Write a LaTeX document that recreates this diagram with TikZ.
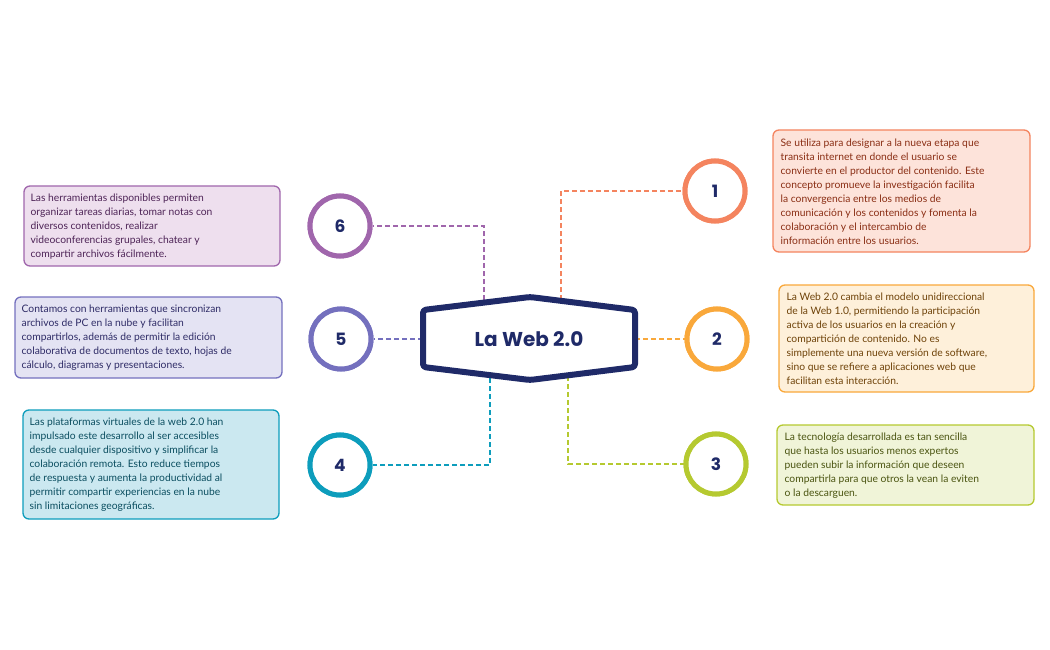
\documentclass[tikz,border=0pt]{standalone}
\usepackage{fontspec}
\setmainfont{Lato}
\newfontfamily\titlefont{Poppins}
\definecolor{navy}{HTML}{1F2A68}
\definecolor{cA}{HTML}{F4845F}\definecolor{fA}{HTML}{FDE3DA}\definecolor{tA}{HTML}{8A2E14}
\definecolor{cB}{HTML}{F9A83B}\definecolor{fB}{HTML}{FEF0DA}\definecolor{tB}{HTML}{6E4208}
\definecolor{cC}{HTML}{B5C930}\definecolor{fC}{HTML}{F0F4D8}\definecolor{tC}{HTML}{4A5410}
\definecolor{cD}{HTML}{0D9DBC}\definecolor{fD}{HTML}{CBE8F0}\definecolor{tD}{HTML}{0B4E60}
\definecolor{cE}{HTML}{7470BE}\definecolor{fE}{HTML}{E4E3F3}\definecolor{tE}{HTML}{2E2B66}
\definecolor{cF}{HTML}{A066AC}\definecolor{fF}{HTML}{EEDFEE}\definecolor{tF}{HTML}{4E2457}
\tikzset{
 num/.style={circle,draw=#1,line width=5pt,fill=white,minimum size=60pt,inner sep=0pt,font=\titlefont\bfseries\fontsize{17}{20}\selectfont,text=navy},
 txt/.style={rounded corners=5pt,line width=1.3pt,anchor=north west,align=left,inner sep=5pt,font=\fontsize{10.3}{14}\selectfont},
 conn/.style={dashed,line width=1.1pt,dash pattern=on 5pt off 3pt}
}
\begin{document}
\begin{tikzpicture}[x=1pt,y=-1pt]
\useasboundingbox (0,0) rectangle (1050,650);
% boxes
\draw[cA,fill=fA,rounded corners=6pt,line width=1.3pt] (773,130) rectangle (1030,252);
\node[txt,text=tA] (b1) at (775,133) {Se utiliza para designar a la nueva etapa que\\transita internet en donde el usuario se\\convierte en el productor del contenido. Este\\concepto promueve la investigación facilita\\la convergencia entre los medios de\\comunicación y los contenidos y fomenta la\\colaboración y el intercambio de\\información entre los usuarios.};
\draw[cB,fill=fB,rounded corners=6pt,line width=1.3pt] (779,285) rectangle (1034,392);
\node[txt,text=tB] (b2) at (781,287) {La Web 2.0 cambia el modelo unidireccional\\de la Web 1.0, permitiendo la participación\\activa de los usuarios en la creación y\\compartición de contenido. No es\\simplemente una nueva versión de software,\\sino que se refiere a aplicaciones web que\\facilitan esta interacción.};
\draw[cC,fill=fC,rounded corners=6pt,line width=1.3pt] (777,425) rectangle (1034,505);
\node[txt,text=tC] (b3) at (779,427) {La tecnología desarrollada es tan sencilla\\que hasta los usuarios menos expertos\\pueden subir la información que deseen\\compartirla para que otros la vean la eviten\\o la descarguen.};
\draw[cD,fill=fD,rounded corners=6pt,line width=1.3pt] (23,410) rectangle (279,519);
\node[txt,text=tD] (b4) at (24,412) {Las plataformas virtuales de la web 2.0 han\\impulsado este desarrollo al ser accesibles\\desde cualquier dispositivo y simplificar la\\colaboración remota. Esto reduce tiempos\\de respuesta y aumenta la productividad al\\permitir compartir experiencias en la nube\\sin limitaciones geográficas.};
\draw[cE,fill=fE,rounded corners=6pt,line width=1.3pt] (15,297) rectangle (282,378);
\node[txt,text=tE] (b5) at (16,299) {Contamos con herramientas que sincronizan\\archivos de PC en la nube y facilitan\\compartirlos, además de permitir la edición\\colaborativa de documentos de texto, hojas de\\cálculo, diagramas y presentaciones.};
\draw[cF,fill=fF,rounded corners=6pt,line width=1.3pt] (24,186) rectangle (280,266);
\node[txt,text=tF] (b6) at (25,188) {Las herramientas disponibles permiten\\organizar tareas diarias, tomar notas con\\diversos contenidos, realizar\\videoconferencias grupales, chatear y\\compartir archivos fácilmente.};
% connectors
\coordinate (h1) at (561,300); \coordinate (h3) at (568,376);
\coordinate (h4) at (490,378); \coordinate (h6) at (484,300);
\coordinate (h2) at (635,339); \coordinate (h5) at (423,339);
\node[num=cA] (n1) at (715,191) {1};
\node[num=cB] (n2) at (717,339) {2};
\node[num=cC] (n3) at (716,464) {3};
\node[num=cD] (n4) at (340,465) {4};
\node[num=cE] (n5) at (341,339) {5};
\node[num=cF] (n6) at (340,226) {6};
\begin{scope}[on background layer/.style={}]
\draw[conn,cA] (h1) |- (n1.west);
\draw[conn,cB] (h2) -- (n2.west);
\draw[conn,cC] (h3) |- (n3.west);
\draw[conn,cD] (h4) |- (n4.east);
\draw[conn,cE] (h5) -- (n5.east);
\draw[conn,cF] (h6) |- (n6.east);
\end{scope}
\node[num=cA] at (n1) {1};
\node[num=cB] at (n2) {2};
\node[num=cC] at (n3) {3};
\node[num=cD] at (n4) {4};
\node[num=cE] at (n5) {5};
\node[num=cF] at (n6) {6};
\draw[navy,line width=6pt,fill=white,line join=round,rounded corners=3pt] (423,310) -- (530,297) -- (635,310) -- (635,367) -- (530,380) -- (423,367) -- cycle;
\node[font=\titlefont\bfseries\fontsize{20}{24}\selectfont,text=navy] (t) at (529,339) {La Web 2.0};
\end{tikzpicture}
\end{document}
